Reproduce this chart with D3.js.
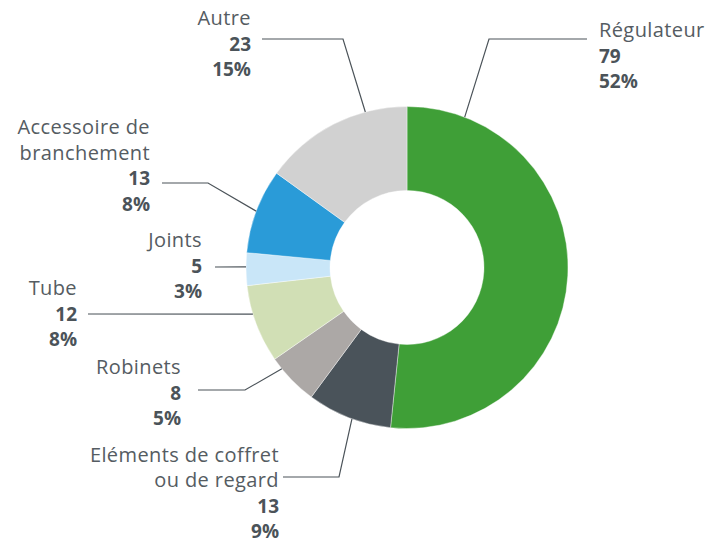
<!DOCTYPE html>
<html>
<head>
<meta charset="utf-8">
<script src="https://cdn.jsdelivr.net/npm/d3@7/dist/d3.min.js"></script>
<style>
  html, body { margin: 0; padding: 0; background: #fff; }
  svg { display: block; }
  text { font-family: "Open Sans", sans-serif; }
</style>
</head>
<body>
<svg id="chart" width="705" height="540"></svg>
<script>
// ---- data ----
const categories = ["Régulateur", "Eléments de coffret\nou de regard", "Robinets", "Tube", "Joints", "Accessoire de\nbranchement", "Autre"];
const values = [79, 13, 8, 12, 5, 13, 23];
const percentLabels = ["52%", "9%", "5%", "8%", "3%", "8%", "15%"];
const colors = ["#3f9f37", "#4a535a", "#aca8a6", "#d1dfb5", "#c9e6f8", "#2a9bd8", "#d1d1d1"];

// ---- layout (label placement, not data) ----
const labelLayout = [
  { side: "start", tx: 599, ty: 37,  from: [587, 39],  elbow: [489, 39],  angle: 21 },
  { side: "end",   tx: 279, ty: 461.5, from: [283, 477], elbow: [339, 477], angle: 200 },
  { side: "end",   tx: 181, ty: 374, from: [198, 390], elbow: [245, 390], angle: 231 },
  { side: "end",   tx: 77,  ty: 295, from: [88, 314],  elbow: null,       angle: 253.2 },
  { side: "end",   tx: 202, ty: 247, from: [215, 267], elbow: null,       angle: 270.2 },
  { side: "end",   tx: 150, ty: 134, from: [162, 183], elbow: [208, 183], angle: 290.5 },
  { side: "end",   tx: 251, ty: 25,  from: [262, 39],  elbow: [343, 39],  angle: 345 }
];

const cx = 407, cy = 267.5, outerR = 161, innerR = 77;
const lineH = 25.5;
const textColor = "#4b5359";

const svg = d3.select("#chart");
const g = svg.append("g").attr("transform", `translate(${cx},${cy})`);

const pie = d3.pie().sort(null).value(d => d.value);
const arc = d3.arc().innerRadius(innerR).outerRadius(outerR);

const data = categories.map((c, i) => ({ name: c, value: values[i], pct: percentLabels[i], color: colors[i], layout: labelLayout[i] }));

g.selectAll("path.slice")
  .data(pie(data))
  .join("path")
  .attr("class", "slice")
  .attr("d", arc)
  .attr("fill", d => d.data.color)
  .attr("stroke", "#ffffff")
  .attr("stroke-width", 0.4);

// leader lines
const lines = svg.append("g");
data.forEach(d => {
  const L = d.layout;
  const p = d3.pointRadial(L.angle * Math.PI / 180, outerR);
  const anchor = [cx + p[0], cy + p[1]];
  const pts = [L.from];
  if (L.elbow) pts.push(L.elbow);
  pts.push(anchor);
  lines.append("path")
    .attr("d", d3.line()(pts))
    .attr("fill", "none")
    .attr("stroke", "#4b5359")
    .attr("stroke-width", 1.2);
});

// labels
const labels = svg.append("g");
data.forEach(d => {
  const L = d.layout;
  const t = labels.append("text")
    .attr("text-anchor", L.side)
    .attr("fill", textColor);
  const nameLines = d.name.split("\n");
  let k = 0;
  nameLines.forEach(s => {
    t.append("tspan").attr("x", L.tx).attr("y", L.ty + lineH * k)
      .attr("font-size", 20).attr("font-weight", 400).attr("letter-spacing", 0.4)
      .attr("fill", "#555c62").text(s);
    k++;
  });
  t.append("tspan").attr("x", L.tx).attr("y", L.ty + lineH * k).attr("font-size", 19).attr("font-weight", 700).text(d.value);
  k++;
  t.append("tspan").attr("x", L.tx).attr("y", L.ty + lineH * k).attr("font-size", 19).attr("font-weight", 700).text(d.pct);
});
</script>
</body>
</html>
